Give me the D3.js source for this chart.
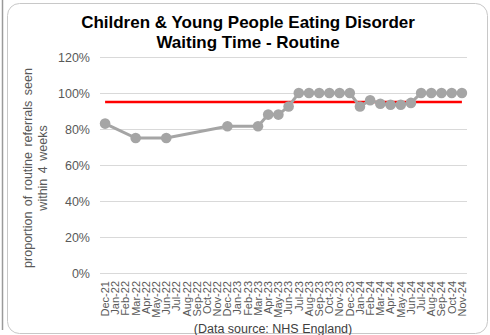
<!DOCTYPE html>
<html><head><meta charset="utf-8">
<script src="https://cdn.jsdelivr.net/npm/d3@7"></script>
<style>html,body{margin:0;padding:0;background:#fff;}svg{display:block;font-family:"Liberation Sans",Arial,sans-serif;}</style>
</head><body>
<svg id="c" width="490" height="335"></svg>
<script>
const months = ["Dec-21","Jan-22","Feb-22","Mar-22","Apr-22","May-22","Jun-22","Jul-22","Aug-22","Sep-22","Oct-22","Nov-22","Dec-22","Jan-23","Feb-23","Mar-23","Apr-23","May-23","Jun-23","Jul-23","Aug-23","Sep-23","Oct-23","Nov-23","Dec-23","Jan-24","Feb-24","Mar-24","Apr-24","May-24","Jun-24","Jul-24","Aug-24","Sep-24","Oct-24","Nov-24"];
const proportion = [0.83,null,null,0.75,null,null,0.75,null,null,null,null,null,0.815,null,null,0.815,0.88,0.88,0.925,1,1,1,1,1,1,0.925,0.96,0.94,0.935,0.935,0.945,1,1,1,1,1];
const target = 0.95;
const yTicks = [0,0.2,0.4,0.6,0.8,1.0,1.2];
const titleLines = ["Children & Young People Eating Disorder","Waiting Time - Routine"];
const yTitleLines = ["proportion of routine referrals seen","within 4 weeks"];
const sourceText = "(Data source: NHS England)";

const svg = d3.select("#c");
// outer decorations
svg.append("line").attr("x1",2.5).attr("x2",2.5).attr("y1",0).attr("y2",330).attr("stroke","#9a9a9a").attr("stroke-width",1.5);
svg.append("rect").attr("x",7.5).attr("y",3.5).attr("width",480).attr("height",330).attr("rx",12)
  .attr("fill","#fff").attr("stroke","#c8c8c8").attr("stroke-width",1);

const x = d3.scaleBand().domain(months).range([100,467]).padding(0);
const y = d3.scaleLinear().domain([0,1.2]).range([273,57]);

// title
svg.append("text").attr("x",248).attr("y",28).attr("text-anchor","middle")
  .attr("font-size",17).attr("font-weight","bold").attr("fill","#000")
  .selectAll("tspan").data(titleLines).join("tspan")
  .attr("x",248).attr("dy",(d,i)=>i?20:0).text(d=>d);

// gridlines
svg.append("g").selectAll("line").data(yTicks).join("line")
  .attr("x1",100).attr("x2",467).attr("y1",d=>y(d)+0.5).attr("y2",d=>y(d)+0.5)
  .attr("stroke","#d9d9d9").attr("stroke-width",1);

// y axis
const ya = svg.append("g").attr("transform","translate(90,0)")
  .call(d3.axisLeft(y).tickValues(yTicks).tickFormat(d3.format(".0%")).tickSize(0).tickPadding(0));
ya.select(".domain").remove();
ya.selectAll("text").attr("font-size",12.5).attr("fill","#595959").attr("font-family","Liberation Sans, Arial, sans-serif");

// x axis
const xa = svg.append("g").attr("transform","translate(0,277)")
  .call(d3.axisBottom(x).tickSize(0).tickPadding(0));
xa.select(".domain").remove();
xa.selectAll("text").attr("font-size",11).attr("fill","#595959").attr("font-family","Liberation Sans, Arial, sans-serif")
  .attr("text-anchor","end").attr("transform","rotate(-90)").attr("x",-4).attr("y",0).attr("dy","0.35em");

// y title
svg.append("text").attr("transform","translate(32,168) rotate(-90)").attr("text-anchor","middle")
  .attr("font-size",12.5).attr("fill","#595959").attr("word-spacing",2)
  .selectAll("tspan").data(yTitleLines).join("tspan")
  .attr("x",0).attr("dy",(d,i)=>i?15:0).text(d=>d);

// target line
svg.append("line").attr("x1",x(months[0])+x.bandwidth()/2).attr("x2",x(months[months.length-1])+x.bandwidth()/2)
  .attr("y1",y(target)).attr("y2",y(target)).attr("stroke","#ff0000").attr("stroke-width",2.5);

// series
const pts = months.map((m,i)=>({m,v:proportion[i]})).filter(d=>d.v!=null);
const cx = d=>x(d.m)+x.bandwidth()/2;
svg.append("path").datum(pts).attr("fill","none").attr("stroke","#a5a5a5").attr("stroke-width",3)
  .attr("d",d3.line().x(cx).y(d=>y(d.v)));
svg.append("g").selectAll("circle").data(pts).join("circle")
  .attr("cx",cx).attr("cy",d=>y(d.v)).attr("r",5.3).attr("fill","#a5a5a5");

// source
svg.append("text").attr("x",273).attr("y",333).attr("text-anchor","middle")
  .attr("font-size",12.5).attr("fill","#404040").text(sourceText);
</script>
</body></html>
